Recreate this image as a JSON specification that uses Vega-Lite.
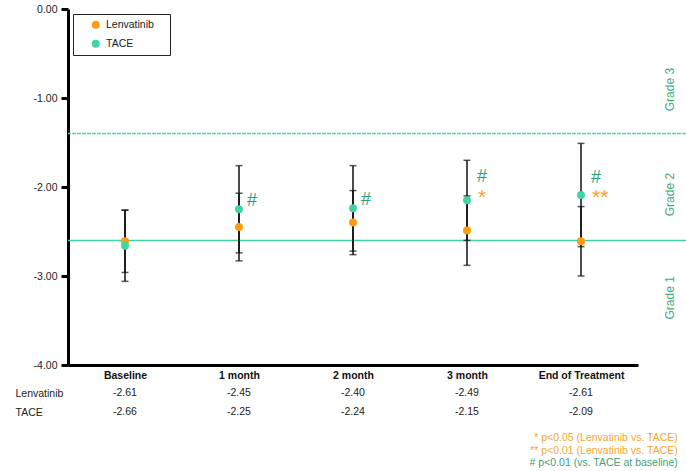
{
  "$schema": "https://vega.github.io/schema/vega-lite/v6.json",
  "background": "white",
  "padding": {"left": 15, "top": 4, "right": 0, "bottom": 0},
  "spacing": 3,
  "datasets": {
    "stats": [
      {"visit": "Baseline", "group": "Lenvatinib", "mean": -2.61, "lo": -2.96, "hi": -2.26},
      {"visit": "Baseline", "group": "TACE", "mean": -2.66, "lo": -3.06, "hi": -2.26},
      {"visit": "1 month", "group": "Lenvatinib", "mean": -2.45, "lo": -2.83, "hi": -2.07},
      {"visit": "1 month", "group": "TACE", "mean": -2.25, "lo": -2.74, "hi": -1.76},
      {"visit": "2 month", "group": "Lenvatinib", "mean": -2.40, "lo": -2.76, "hi": -2.04},
      {"visit": "2 month", "group": "TACE", "mean": -2.24, "lo": -2.72, "hi": -1.76},
      {"visit": "3 month", "group": "Lenvatinib", "mean": -2.49, "lo": -2.88, "hi": -2.10},
      {"visit": "3 month", "group": "TACE", "mean": -2.15, "lo": -2.60, "hi": -1.70},
      {"visit": "End of Treatment", "group": "Lenvatinib", "mean": -2.61, "lo": -3.00, "hi": -2.22},
      {"visit": "End of Treatment", "group": "TACE", "mean": -2.09, "lo": -2.67, "hi": -1.51}
    ],
    "grades": [
      {"level": -1.4, "line": "dashed"},
      {"level": -2.6, "line": "solid"}
    ]
  },
  "title": {
    "text": ["* p<0.05 (Lenvatinib vs. TACE)", "** p<0.01 (Lenvatinib vs. TACE)"],
    "subtitle": "# p<0.01 (vs. TACE at baseline)",
    "orient": "bottom",
    "anchor": "end",
    "align": "right",
    "fontSize": 10.5,
    "fontWeight": "normal",
    "color": "#F7A531",
    "subtitleColor": "#3E9F7C",
    "subtitleFontSize": 10.5,
    "lineHeight": 13,
    "subtitleLineHeight": 13,
    "subtitlePadding": 1.5,
    "offset": 12,
    "dx": -9
  },
  "vconcat": [
    {
      "width": 618,
      "height": 356,
      "data": {"name": "stats"},
      "resolve": {"axis": {"y": "independent"}},
      "layer": [
        {
          "data": {"name": "grades"},
          "transform": [{"filter": "datum.line == 'dashed'"}],
          "mark": {"type": "rule", "color": "#4CD9A8", "strokeWidth": 1.5, "strokeDash": [4, 1]},
          "encoding": {
            "y": {
              "field": "level", "type": "quantitative",
              "scale": {"domain": [-4, 0], "nice": false, "zero": false},
              "axis": {
                "orient": "right", "title": null, "values": [-0.9, -2.08, -3.24],
                "labelExpr": "datum.value > -1.4 ? 'Grade 3' : datum.value > -2.6 ? 'Grade 2' : 'Grade 1'",
                "domain": false, "ticks": false, "grid": false,
                "labelAngle": -90, "labelAlign": "center", "labelBaseline": "top",
                "labelPadding": 0, "offset": -22,
                "labelFontSize": 12, "labelColor": "#3DAA80"
              }
            }
          }
        },
        {
          "data": {"name": "grades"},
          "transform": [{"filter": "datum.line == 'solid'"}],
          "mark": {"type": "rule", "color": "#3DD6A3", "strokeWidth": 1.5},
          "encoding": {
            "y": {"field": "level", "type": "quantitative", "axis": null}
          }
        },
        {
          "mark": {"type": "rule", "color": "#111", "strokeWidth": 1.5},
          "encoding": {
            "x": {
              "field": "visit", "type": "ordinal",
              "scale": {"type": "point", "domain": ["Baseline", "1 month", "2 month", "3 month", "End of Treatment"], "range": [0, 570], "padding": 0.5},
              "axis": {
                "title": null, "labelAngle": 0, "labelFontWeight": "bold", "labelFontSize": 10.5,
                "labelColor": "#111", "ticks": false, "domainWidth": 3, "domainColor": "#000", "labelPadding": 5
              }
            },
            "y": {
              "field": "lo", "type": "quantitative",
              "axis": {
                "title": null, "values": [0, -1, -2, -3, -4], "format": ".2f", "grid": false,
                "domainWidth": 3, "domainColor": "#000", "tickWidth": 3, "tickSize": 7, "tickColor": "#000",
                "labelFontSize": 10.5, "labelColor": "#222", "labelPadding": 4
              }
            },
            "y2": {"field": "hi"}
          }
        },
        {
          "mark": {"type": "tick", "color": "#111", "thickness": 1.5, "size": 7, "orient": "horizontal"},
          "encoding": {
            "x": {"field": "visit", "type": "ordinal"},
            "y": {"field": "lo", "type": "quantitative", "axis": null}
          }
        },
        {
          "mark": {"type": "tick", "color": "#111", "thickness": 1.5, "size": 7, "orient": "horizontal"},
          "encoding": {
            "x": {"field": "visit", "type": "ordinal"},
            "y": {"field": "hi", "type": "quantitative", "axis": null}
          }
        },
        {
          "mark": {"type": "circle", "size": 64, "opacity": 1},
          "encoding": {
            "x": {"field": "visit", "type": "ordinal"},
            "y": {"field": "mean", "type": "quantitative", "axis": null},
            "color": {
              "field": "group", "type": "nominal",
              "scale": {"domain": ["Lenvatinib", "TACE"], "range": ["#FF9B0F", "#40D6A4"]},
              "legend": {
                "orient": "top-left", "offset": 5,
                "title": "\u00a0",
                "titleOrient": "right", "titlePadding": 11, "titleFontSize": 10.5,
                "strokeColor": "#222", "padding": 5.5,
                "symbolOffset": 12, "labelOffset": 5, "rowPadding": 8,
                "symbolSize": 64, "symbolType": "circle", "symbolStrokeWidth": 0,
                "labelFontSize": 10.5, "labelColor": "#222"
              }
            }
          }
        },
        {
          "transform": [{"filter": "datum.group == 'TACE' && (datum.visit == '1 month' || datum.visit == '2 month')"}],
          "mark": {"type": "text", "align": "left", "baseline": "middle", "dx": 8, "dy": -8, "fontSize": 18, "color": "#2F9E78"},
          "encoding": {
            "x": {"field": "visit", "type": "ordinal"},
            "y": {"field": "mean", "type": "quantitative", "axis": null},
            "text": {"value": "#"}
          }
        },
        {
          "transform": [{"filter": "datum.group == 'TACE' && datum.visit == '3 month'"}],
          "mark": {"type": "text", "align": "left", "baseline": "middle", "dx": 10, "dy": -23, "fontSize": 18, "color": "#2F9E78"},
          "encoding": {
            "x": {"field": "visit", "type": "ordinal"},
            "y": {"field": "mean", "type": "quantitative", "axis": null},
            "text": {"value": "#"}
          }
        },
        {
          "transform": [{"filter": "datum.group == 'TACE' && datum.visit == 'End of Treatment'"}],
          "mark": {"type": "text", "align": "left", "baseline": "middle", "dx": 10, "dy": -17, "fontSize": 18, "color": "#2F9E78"},
          "encoding": {
            "x": {"field": "visit", "type": "ordinal"},
            "y": {"field": "mean", "type": "quantitative", "axis": null},
            "text": {"value": "#"}
          }
        },
        {
          "transform": [{"filter": "datum.group == 'TACE' && datum.visit == '3 month'"}],
          "mark": {"type": "text", "align": "left", "baseline": "middle", "dx": 11, "dy": -2, "fontSize": 21, "color": "#FFA21A"},
          "encoding": {
            "x": {"field": "visit", "type": "ordinal"},
            "y": {"field": "mean", "type": "quantitative", "axis": null},
            "text": {"value": "*"}
          }
        },
        {
          "transform": [{"filter": "datum.group == 'TACE' && datum.visit == 'End of Treatment'"}],
          "mark": {"type": "text", "align": "left", "baseline": "middle", "dx": 11, "dy": 3, "fontSize": 21, "color": "#FFA21A"},
          "encoding": {
            "x": {"field": "visit", "type": "ordinal"},
            "y": {"field": "mean", "type": "quantitative", "axis": null},
            "text": {"value": "**"}
          }
        }
      ]
    },
    {
      "width": 570,
      "height": 37.4,
      "data": {"name": "stats"},
      "mark": {"type": "text", "fontSize": 10.5, "color": "#222"},
      "encoding": {
        "x": {
          "field": "visit", "type": "ordinal",
          "scale": {"type": "point", "domain": ["Baseline", "1 month", "2 month", "3 month", "End of Treatment"], "padding": 0.5},
          "axis": null
        },
        "y": {
          "field": "group", "type": "nominal",
          "scale": {"type": "point", "domain": ["Lenvatinib", "TACE"], "padding": 0.5},
          "axis": {
            "title": null, "domain": false, "ticks": false, "labelAlign": "left",
            "labelPadding": 53, "labelFontSize": 10.5, "labelColor": "#222"
          }
        },
        "text": {"field": "mean", "type": "quantitative", "format": ".2f"}
      }
    }
  ],
  "config": {
    "font": "Liberation Sans",
    "view": {"stroke": null},
    "locale": {
      "number": {"decimal": ".", "thousands": ",", "grouping": [3], "currency": ["$", ""], "minus": "-"}
    }
  }
}
